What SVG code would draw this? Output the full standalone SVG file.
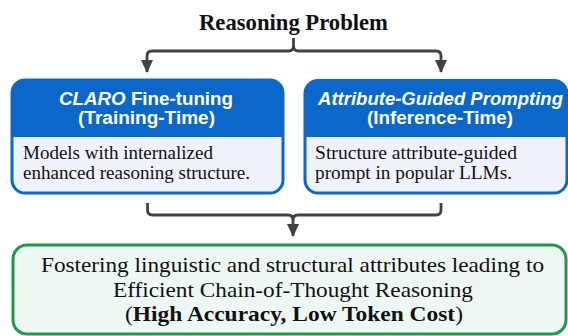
<svg xmlns="http://www.w3.org/2000/svg" width="568" height="336" viewBox="0 0 568 336">
<style>
.title{font-family:"Liberation Serif","Times New Roman",serif;font-weight:bold;font-size:23px;fill:#111;}
.hdr{font-family:"Liberation Sans",Arial,sans-serif;font-weight:bold;font-size:17.5px;fill:#fff;}
.body{font-family:"Liberation Serif","Times New Roman",serif;font-size:18px;fill:#111;}
.res{font-family:"Liberation Serif","Times New Roman",serif;font-size:21.5px;fill:#111;}
.conn{fill:none;stroke:#424242;stroke-width:2.8;stroke-linejoin:round;}
.boxb{stroke:#0b67c9;stroke-width:3;}
</style>
<defs>
<marker id="ah" viewBox="0 0 13 12" refX="12" refY="6" markerWidth="13" markerHeight="12" markerUnits="userSpaceOnUse" orient="auto">
<path d="M0,0 L13,6 L0,12 Z" fill="#424242"/>
</marker>
<clipPath id="cl"><rect x="12" y="80" width="271" height="113" rx="13"/></clipPath>
<clipPath id="cr"><rect x="305" y="80.5" width="262" height="112.5" rx="13"/></clipPath>
</defs>

<g id="title">
<text class="title" x="293.5" y="29.5" text-anchor="middle" textLength="189" lengthAdjust="spacingAndGlyphs">Reasoning Problem</text>
</g>

<g id="connectors">
<path class="conn" d="M293.5,38 V46 Q293.5,51 288.5,51 H152 Q147,51 147,56 V72" marker-end="url(#ah)"/>
<path class="conn" d="M293.5,46 Q293.5,51 298.5,51 H436 Q441,51 441,56 V72" marker-end="url(#ah)"/>
<path class="conn" d="M147.5,203 V210 Q147.5,215 152.5,215 H288 Q293,215 293,220 V236" marker-end="url(#ah)"/>
<path class="conn" d="M441,203 V210 Q441,215 436,215 H298 Q293,215 293,220"/>
</g>

<g id="claro">
<g clip-path="url(#cl)">
<rect x="12" y="80" width="271" height="113" fill="#eef3fa"/>
<rect x="12" y="80" width="271" height="57" fill="#0b67c9"/>
</g>
<rect class="boxb" x="12" y="80" width="271" height="113" rx="13" fill="none"/>
<text class="hdr" x="146" y="105" text-anchor="middle" textLength="174" lengthAdjust="spacingAndGlyphs"><tspan font-style="italic">CLARO</tspan> Fine-tuning</text>
<text class="hdr" x="146.5" y="124" text-anchor="middle" textLength="137" lengthAdjust="spacingAndGlyphs">(Training-Time)</text>
<text class="body" x="23" y="158.5" textLength="190" lengthAdjust="spacingAndGlyphs">Models with internalized</text>
<text class="body" x="23" y="179" textLength="227" lengthAdjust="spacingAndGlyphs">enhanced reasoning structure.</text>
</g>

<g id="agp">
<g clip-path="url(#cr)">
<rect x="305" y="80.5" width="262" height="112.5" fill="#eef3fa"/>
<rect x="305" y="80.5" width="262" height="56.5" fill="#0b67c9"/>
</g>
<rect class="boxb" x="305" y="80.5" width="262" height="112.5" rx="13" fill="none"/>
<text class="hdr" x="440.5" y="105" text-anchor="middle" font-style="italic" textLength="245" lengthAdjust="spacingAndGlyphs">Attribute-Guided Prompting</text>
<text class="hdr" x="440" y="124" text-anchor="middle" textLength="146" lengthAdjust="spacingAndGlyphs">(Inference-Time)</text>
<text class="body" x="315" y="158.5" textLength="202" lengthAdjust="spacingAndGlyphs">Structure attribute-guided</text>
<text class="body" x="315" y="179" textLength="197" lengthAdjust="spacingAndGlyphs">prompt in popular LLMs.</text>
</g>

<g id="outcome">
<rect x="13" y="245" width="553" height="89" rx="14" fill="#eef8f3" stroke="#1c9b4c" stroke-width="3"/>
<text class="res" x="292.5" y="272" text-anchor="middle" textLength="503" lengthAdjust="spacingAndGlyphs">Fostering linguistic and structural attributes leading to</text>
<text class="res" x="293" y="296.5" text-anchor="middle" textLength="360" lengthAdjust="spacingAndGlyphs">Efficient Chain-of-Thought Reasoning</text>
<text class="res" x="294" y="321" text-anchor="middle" textLength="338" lengthAdjust="spacingAndGlyphs">(<tspan font-weight="bold">High Accuracy, Low Token Cost</tspan>)</text>
</g>
</svg>
